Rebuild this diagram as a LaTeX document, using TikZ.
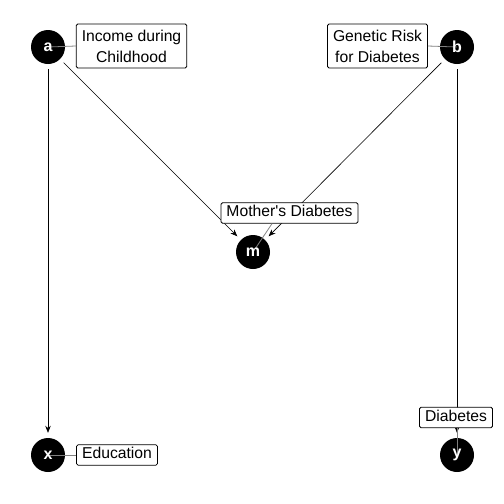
\documentclass[tikz,border=0pt]{standalone}
\usepackage{fontspec}
\setmainfont{Liberation Sans}
\newfontfamily\labfont{Liberation Sans}
\usetikzlibrary{arrows.meta}
\begin{document}
\begin{tikzpicture}[x=1pt,y=-1pt,
  dagnode/.style={circle,fill=black,minimum size=34pt,inner sep=0pt,text=white,font=\labfont\fontsize{16}{16}\selectfont\bfseries},
  lbl/.style={draw=black,fill=white,line width=0.8pt,rounded corners=1.5pt,inner xsep=5.5pt,inner ysep=3pt,align=center,
     font=\labfont\fontsize{15.7}{22}\selectfont,text height=11pt,text depth=3.5pt},
  lbltwo/.style={draw=black,fill=white,line width=0.8pt,rounded corners=1.5pt,inner xsep=5.5pt,inner ysep=3pt,align=center,
     font=\labfont\fontsize{15.7}{21}\selectfont,minimum height=44pt},
  edge/.style={line width=0.6pt,-{Stealth[length=7pt,width=5.5pt]},shorten <=5pt,shorten >=5pt},
  lead/.style={draw=gray,line width=0.8pt}]
\useasboundingbox (0,0) rectangle (504,504);
% nodes (circles)
\node[dagnode] (a) at (48,47) {};
\node[dagnode] (b) at (457,47) {};
\node[dagnode] (m) at (253,252) {};
\node[dagnode] (x) at (48,455) {};
\node[dagnode] (y) at (457,455) {};
% edges
\draw[edge] (a) -- (m);
\draw[edge] (b) -- (m);
\draw[edge] (a) -- (x);
\draw[edge] (b) -- (y);
% labels
\node[lbltwo] (la) at (131.5,46) {Income during\\Childhood};
\node[lbltwo] (lb) at (377.5,46) {Genetic Risk\\for Diabetes};
\node[lbl] (lm) at (289.5,213) {Mother's Diabetes};
\node[lbl] (ly) at (456,417.5) {Diabetes};
\node[lbl] (lx) at (117,455) {Education};
% leaders
\draw[lead] (a.center) -- (la.west);
\draw[lead] (b.center) -- (lb.east);
\draw[lead] (m.center) -- (lm.south -| 272,0);
\draw[lead] (y.center) -- (ly.south -| y.center);
\draw[lead] (x.center) -- (lx.west);
% letters
\node[dagnode,fill=none] (ta) at (a) {a};
\node[dagnode,fill=none] (tb) at (b) {b};
\node[dagnode,fill=none] (tm) at (m) {m};
\node[dagnode,fill=none] (tx) at (x) {x};
\node[dagnode,fill=none] (ty) at (y) {y};
\end{tikzpicture}
\end{document}
